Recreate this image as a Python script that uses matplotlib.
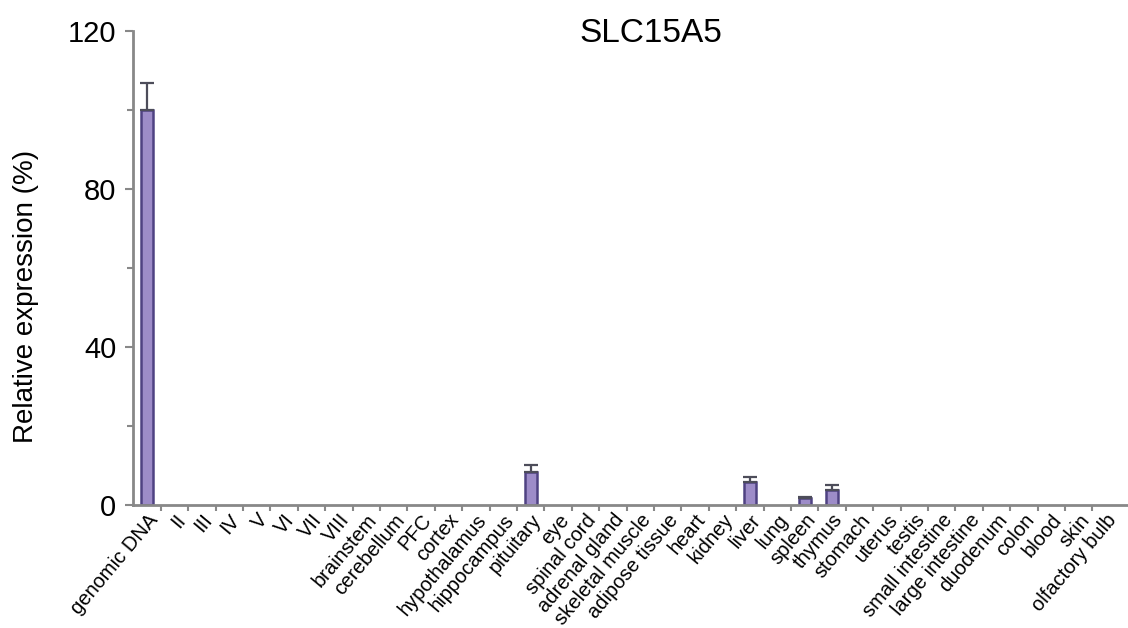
import numpy as np
import matplotlib.pyplot as plt
from matplotlib.ticker import MultipleLocator, FixedLocator

# --- Data ---
tissues = ["genomic DNA", "II", "III", "IV", "V", "VI", "VII", "VIII",
           "brainstem", "cerebellum", "PFC", "cortex", "hypothalamus",
           "hippocampus", "pituitary", "eye", "spinal cord", "adrenal gland",
           "skeletal muscle", "adipose tissue", "heart", "kidney", "liver",
           "lung", "spleen", "thymus", "stomach", "uterus", "testis",
           "small intestine", "large intestine", "duodenum", "colon", "blood",
           "skin", "olfactory bulb"]
expression = [100, 0, 0, 0, 0, 0, 0, 0,
              0, 0, 0, 0, 0,
              0, 8.4, 0, 0, 0,
              0, 0, 0, 0, 5.8,
              0, 1.8, 3.8, 0, 0, 0,
              0, 0, 0, 0, 0,
              0, 0]
error = [6.8, 0, 0, 0, 0, 0, 0, 0,
         0, 0, 0, 0, 0,
         0, 1.7, 0, 0, 0,
         0, 0, 0, 0, 1.3,
         0, 0.3, 1.2, 0, 0, 0,
         0, 0, 0, 0, 0,
         0, 0]

plt.rcParams['font.family'] = ['Liberation Sans', 'DejaVu Sans']

fig = plt.figure(figsize=(11.28, 6.28), dpi=100)
ax = fig.add_axes([0.118, 0.196, 0.882, 0.755])

x = np.arange(len(tissues))
# no outline on empty bars so they don't show up along the axis
edges = ['#4f4282' if v > 0 else 'none' for v in expression]
ax.bar(x, expression, width=0.45, color='#9d8cc8', edgecolor=edges,
       linewidth=1.8, zorder=2)

# upward error bars only
has_err = [i for i, e in enumerate(error) if e > 0]
ax.errorbar(x[has_err], [expression[i] for i in has_err],
            yerr=[[0] * len(has_err), [error[i] for i in has_err]],
            fmt='none', ecolor='#4d4d5a', elinewidth=1.6, capsize=5,
            capthick=1.6, zorder=3)

ax.set_xlim(-0.51, 35.8)
ax.set_ylim(0, 120)

ax.yaxis.set_major_locator(MultipleLocator(40))
ax.yaxis.set_minor_locator(MultipleLocator(20))
ax.set_xticks(x)
ax.set_xticklabels(tissues, rotation=50, ha='right', rotation_mode='anchor',
                   fontsize=14.5)
ax.xaxis.set_minor_locator(FixedLocator(x[:-1] + 0.5))

ax.tick_params(axis='y', which='major', labelsize=21, length=6, width=1.5,
               color='#888888', pad=6)
ax.tick_params(axis='y', which='minor', length=4, width=1.5, color='#888888')
ax.tick_params(axis='x', which='major', length=0, pad=4)
ax.tick_params(axis='x', which='minor', length=4, width=1.5, color='#888888')

for side in ['top', 'right']:
    ax.spines[side].set_visible(False)
for side in ['left', 'bottom']:
    ax.spines[side].set_color('#888888')
    ax.spines[side].set_linewidth(2)

ax.set_ylabel("Relative expression (%)", fontsize=20, labelpad=12)
ax.yaxis.set_label_coords(-0.095, 0.44)
fig.text(0.577, 0.972, "SLC15A5", ha='center', va='top', fontsize=24)

fig.savefig("out.png", dpi=100)
